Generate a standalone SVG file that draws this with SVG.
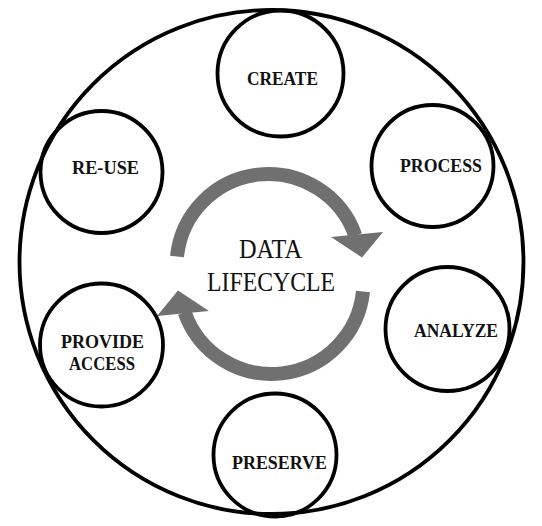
<svg xmlns="http://www.w3.org/2000/svg" xmlns:xlink="http://www.w3.org/1999/xlink" width="542" height="526" viewBox="0 0 542 526">
  <style>
    .ring { fill: none; stroke: #000; stroke-width: 3.8; }
    .node { fill: none; stroke: #000; stroke-width: 3.8; }
    .label { font-family: "Liberation Serif", "Times New Roman", serif; font-weight: bold; font-size: 19.5px; fill: #111; text-anchor: middle; }
    .title { font-family: "Liberation Serif", "Times New Roman", serif; font-size: 26.5px; fill: #111; text-anchor: middle; }
    .arc { fill: none; stroke: #707070; stroke-width: 14; }
    .head { fill: #707070; }
  </style>
  <defs>
    <g id="cycle-arrow">
      <path class="arc" d="M 177 256.4 A 92 92 0 0 1 355.3 235.5"/>
      <polygon class="head" points="331,237 383,232 362,257.5"/>
    </g>
  </defs>
  <rect width="542" height="526" fill="#fff"/>
  <g id="outer-ring">
    <circle class="ring" cx="271.5" cy="262" r="252"/>
  </g>
  <g id="connectors">
    <use xlink:href="#cycle-arrow"/>
    <use xlink:href="#cycle-arrow" transform="rotate(180 270 274)"/>
  </g>
  <g id="center-title">
    <text class="title" x="270.5" y="258" textLength="63" lengthAdjust="spacingAndGlyphs">DATA</text>
    <text class="title" x="271" y="291" textLength="128" lengthAdjust="spacingAndGlyphs">LIFECYCLE</text>
  </g>
  <g id="node-create">
    <circle class="node" cx="280.5" cy="73.5" r="63"/>
    <text class="label" x="282.5" y="85" textLength="71" lengthAdjust="spacingAndGlyphs">CREATE</text>
  </g>
  <g id="node-process">
    <circle class="node" cx="432.5" cy="166" r="61"/>
    <text class="label" x="441" y="172" textLength="82" lengthAdjust="spacingAndGlyphs">PROCESS</text>
  </g>
  <g id="node-analyze">
    <circle class="node" cx="447.5" cy="329" r="62"/>
    <text class="label" x="456" y="337" textLength="84" lengthAdjust="spacingAndGlyphs">ANALYZE</text>
  </g>
  <g id="node-preserve">
    <circle class="node" cx="275" cy="455" r="61.5"/>
    <text class="label" x="279.5" y="469" textLength="95" lengthAdjust="spacingAndGlyphs">PRESERVE</text>
  </g>
  <g id="node-provide-access">
    <circle class="node" cx="101.5" cy="345" r="61.5"/>
    <text class="label" x="102.5" y="348" textLength="83" lengthAdjust="spacingAndGlyphs">PROVIDE</text>
    <text class="label" x="102" y="370" textLength="66" lengthAdjust="spacingAndGlyphs">ACCESS</text>
  </g>
  <g id="node-re-use">
    <circle class="node" cx="101.5" cy="172" r="61"/>
    <text class="label" x="105.5" y="174" textLength="67" lengthAdjust="spacingAndGlyphs">RE-USE</text>
  </g>
</svg>
